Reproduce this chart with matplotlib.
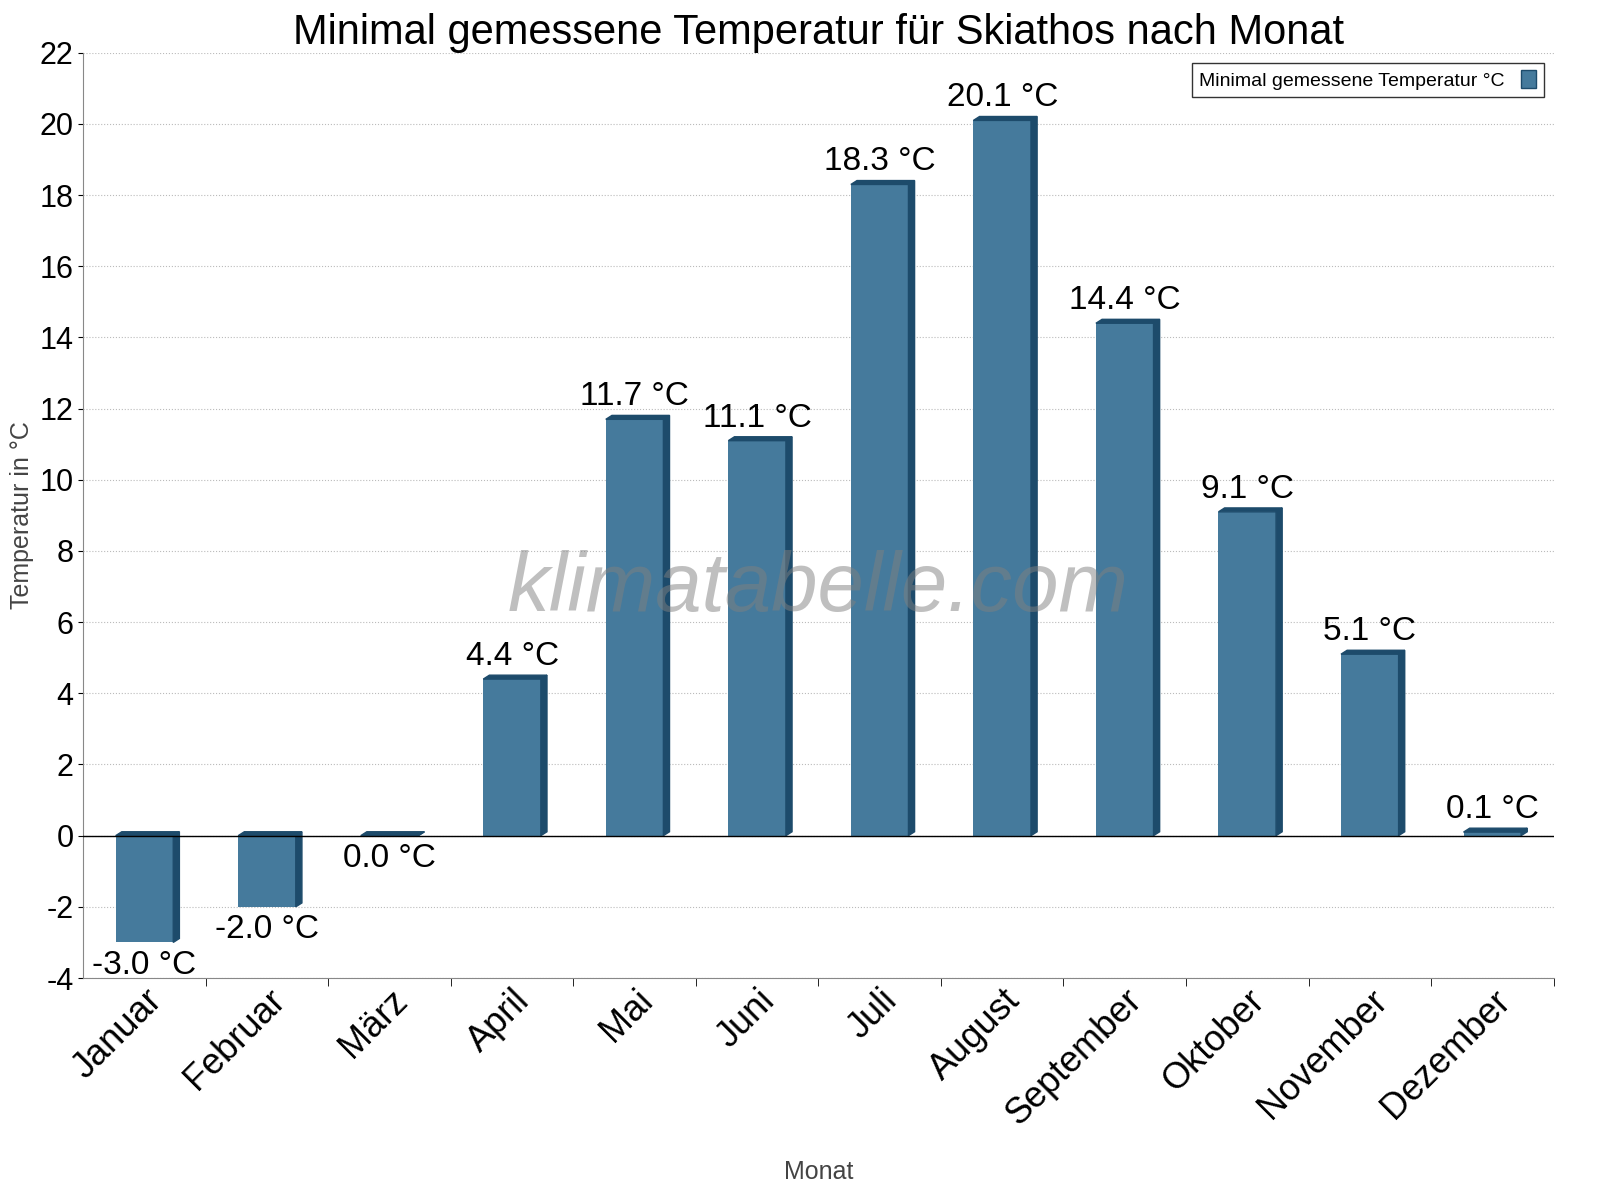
import numpy as np
from matplotlib import pyplot as plt
from matplotlib.patches import Polygon
from matplotlib.transforms import ScaledTranslation

plt.rcParams['font.family'] = 'Liberation Sans'
plt.rcParams['axes.unicode_minus'] = False

months = ['Januar', 'Februar', 'März', 'April', 'Mai', 'Juni', 'Juli',
          'August', 'September', 'Oktober', 'November', 'Dezember']
temps = [-3.0, -2.0, 0.0, 4.4, 11.7, 11.1, 18.3, 20.1, 14.4, 9.1, 5.1, 0.1]

face = '#457a9c'
dark = '#1d4b6b'

fig = plt.figure(figsize=(16, 12), dpi=100)
ax = fig.add_axes([0.052, 0.185, 0.919, 0.771])

x = np.arange(len(months))
w = 0.47
dx, dy = 0.05, 0.11

ax.bar(x, temps, width=w, color=face, zorder=3)
for xi, v in zip(x, temps):
    top, bot = max(v, 0), min(v, 0)
    l, r = xi - w / 2, xi + w / 2
    ax.add_patch(Polygon([(l, top), (r, top), (r + dx, top + dy), (l + dx, top + dy)],
                         closed=True, color=dark, zorder=4))
    ax.add_patch(Polygon([(r, bot), (r + dx, bot + dy), (r + dx, top + dy), (r, top)],
                         closed=True, color=dark, zorder=4))
    label = f'{v:.1f} °C'
    if v > 0:
        ax.text(xi, top + 0.2, label, ha='center', va='bottom', fontsize=24, zorder=5)
    else:
        ax.text(xi, bot - 0.2, label, ha='center', va='top', fontsize=24, zorder=5)

ax.axhline(0, color='black', lw=1, zorder=4)
ax.set_xlim(-0.5, 11.5)
ax.set_ylim(-4, 22)
ax.set_yticks(range(-4, 23, 2))
ax.tick_params(axis='y', labelsize=22)
ax.set_xticks(x)
ax.set_xticklabels(months, rotation=45, ha='right', rotation_mode='anchor', fontsize=26)
offset = ScaledTranslation(0.45, -0.05, fig.dpi_scale_trans)
for lbl in ax.get_xticklabels():
    lbl.set_transform(lbl.get_transform() + offset)
ax.tick_params(axis='x', length=0)
ax.set_xticks(np.arange(0.5, 12, 1), minor=True)
ax.tick_params(axis='x', which='minor', length=6)
ax.grid(axis='y', linestyle=':', color='#bbbbbb', zorder=0)
for s in ['top', 'right']:
    ax.spines[s].set_visible(False)
ax.spines['bottom'].set_color('#888888')
ax.spines['left'].set_color('#888888')

ax.set_title('Minimal gemessene Temperatur für Skiathos nach Monat', fontsize=30, pad=6)
ax.set_ylabel('Temperatur in °C', fontsize=18, color='#444444')
ax.set_xlabel('Monat', fontsize=18, color='#444444', labelpad=20)

ax.text(0.5, 0.42, 'klimatabelle.com', transform=ax.transAxes, ha='center', va='center',
        fontsize=60, style='italic', color='gray', alpha=0.5, zorder=6)

leg = ax.legend([plt.Rectangle((0, 0), 1, 1, fc=face, ec=dark)],
                ['Minimal gemessene Temperatur °C'], loc='upper right',
                fontsize=14, fancybox=False, edgecolor='black', markerfirst=False,
                handlelength=0.8, handleheight=1.0)
leg.get_frame().set_linewidth(1)

fig.savefig('out.png')
